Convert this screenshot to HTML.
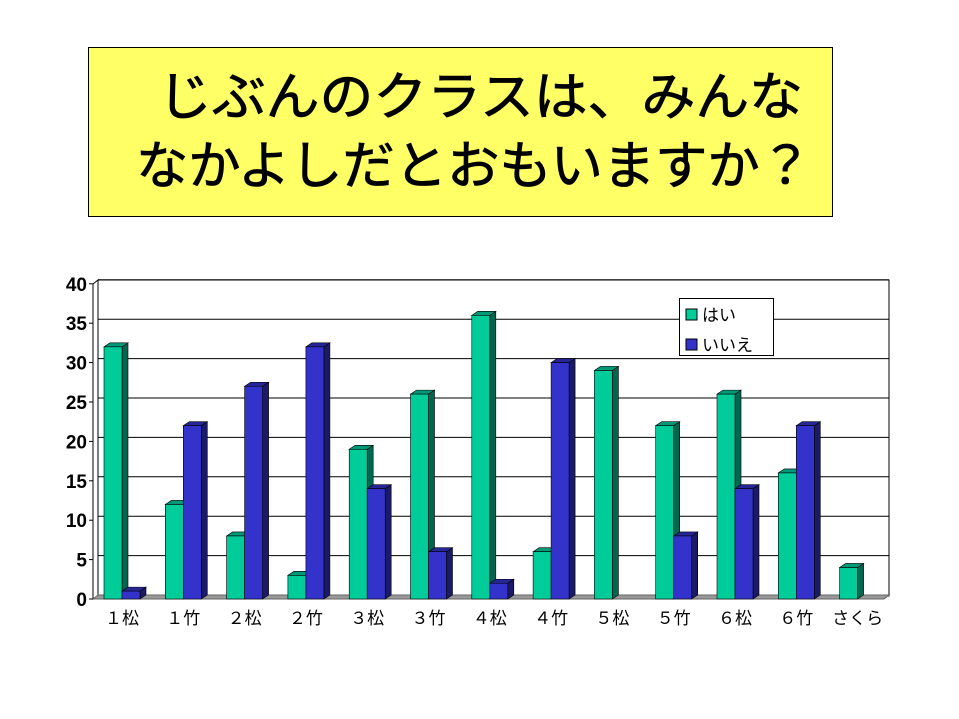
<!DOCTYPE html>
<html><head><meta charset="utf-8"><style>
html,body{margin:0;padding:0;background:#fff;width:959px;height:719px;overflow:hidden}
svg{display:block}
text{font-family:"Liberation Sans","Noto Sans CJK JP",sans-serif}
</style></head><body>
<svg width="959" height="719" viewBox="0 0 959 719" xmlns="http://www.w3.org/2000/svg">
<rect x="88.5" y="47.5" width="744" height="169" fill="#ffff66" stroke="#000" stroke-width="1"/>
<text x="158" y="115" font-size="52" stroke="#000" stroke-width="0.8" textLength="645" lengthAdjust="spacingAndGlyphs">じぶんのクラスは、みんな</text>
<text x="136" y="184" font-size="52" stroke="#000" stroke-width="0.8" textLength="676" lengthAdjust="spacingAndGlyphs">なかよしだとおもいますか？</text>
<g id="chart"></g>
</svg>
<script>
const g=document.getElementById('chart');const NS='http://www.w3.org/2000/svg';
function el(t,a,txt){const e=document.createElementNS(NS,t);for(const k in a)e.setAttribute(k,a[k]);if(txt!==undefined)e.textContent=txt;g.appendChild(e);return e;}
el('rect',{x:98,y:280,width:791,height:316,fill:'#fff',stroke:'#000','stroke-width':1});
for(let i=0;i<=8;i++){const y=595-i*39.4;el('line',{x1:98,y1:y,x2:889,y2:y,stroke:'#000','stroke-width':1});}
el('polygon',{points:'93,284 98,280 98,596 93,599',fill:'#fff',stroke:'#000'});
el('polygon',{points:'93,599 98,595 889,595 884,599',fill:'#999',stroke:'#666'});
for(let i=0;i<=8;i++){const y=599-i*39.4;el('line',{x1:89,y1:y,x2:93,y2:y,stroke:'#000'});
el('text',{x:87,y:y+7,'font-size':19,'text-anchor':'end','font-weight':'bold'},String(i*5));}
const yes=[32,12,8,3,19,26,36,6,29,22,26,16,4],no=[1,22,27,32,14,6,2,30,0,8,14,22,0];
const labs=['１松','１竹','２松','２竹','３松','３竹','４松','４竹','５松','５竹','６松','６竹','さくら'];
function bar(x,v,f,s,t){if(v<=0)return;const h=v*7.88,w=18,top=599-h;
el('polygon',{points:`${x+w},${top} ${x+w+6},${top-4} ${x+w+6},${595} ${x+w},599`,fill:s,stroke:'#000','stroke-width':0.6});
el('polygon',{points:`${x},${top} ${x+6},${top-4} ${x+w+6},${top-4} ${x+w},${top}`,fill:t,stroke:'#000','stroke-width':0.6});
el('rect',{x:x,y:top,width:w,height:h,fill:f,stroke:'#000','stroke-width':0.6});}
for(let i=0;i<13;i++){const x=104+i*61.3;bar(x,yes[i],'#00cc99','#006650','#009977');bar(x+18,no[i],'#3333cc','#1a1a66','#262699');
el('text',{x:x+18,y:624,'font-size':17,'text-anchor':'middle'},labs[i]);}
el('rect',{x:679.5,y:298.5,width:94,height:57,fill:'#fff',stroke:'#000'});
el('rect',{x:686,y:309,width:11,height:11,fill:'#00cc99',stroke:'#000'});
el('rect',{x:686,y:339,width:11,height:11,fill:'#3333cc',stroke:'#000'});
el('text',{x:702,y:321,'font-size':17},'はい');
el('text',{x:702,y:351,'font-size':17},'いいえ');
</script>
</body></html>
